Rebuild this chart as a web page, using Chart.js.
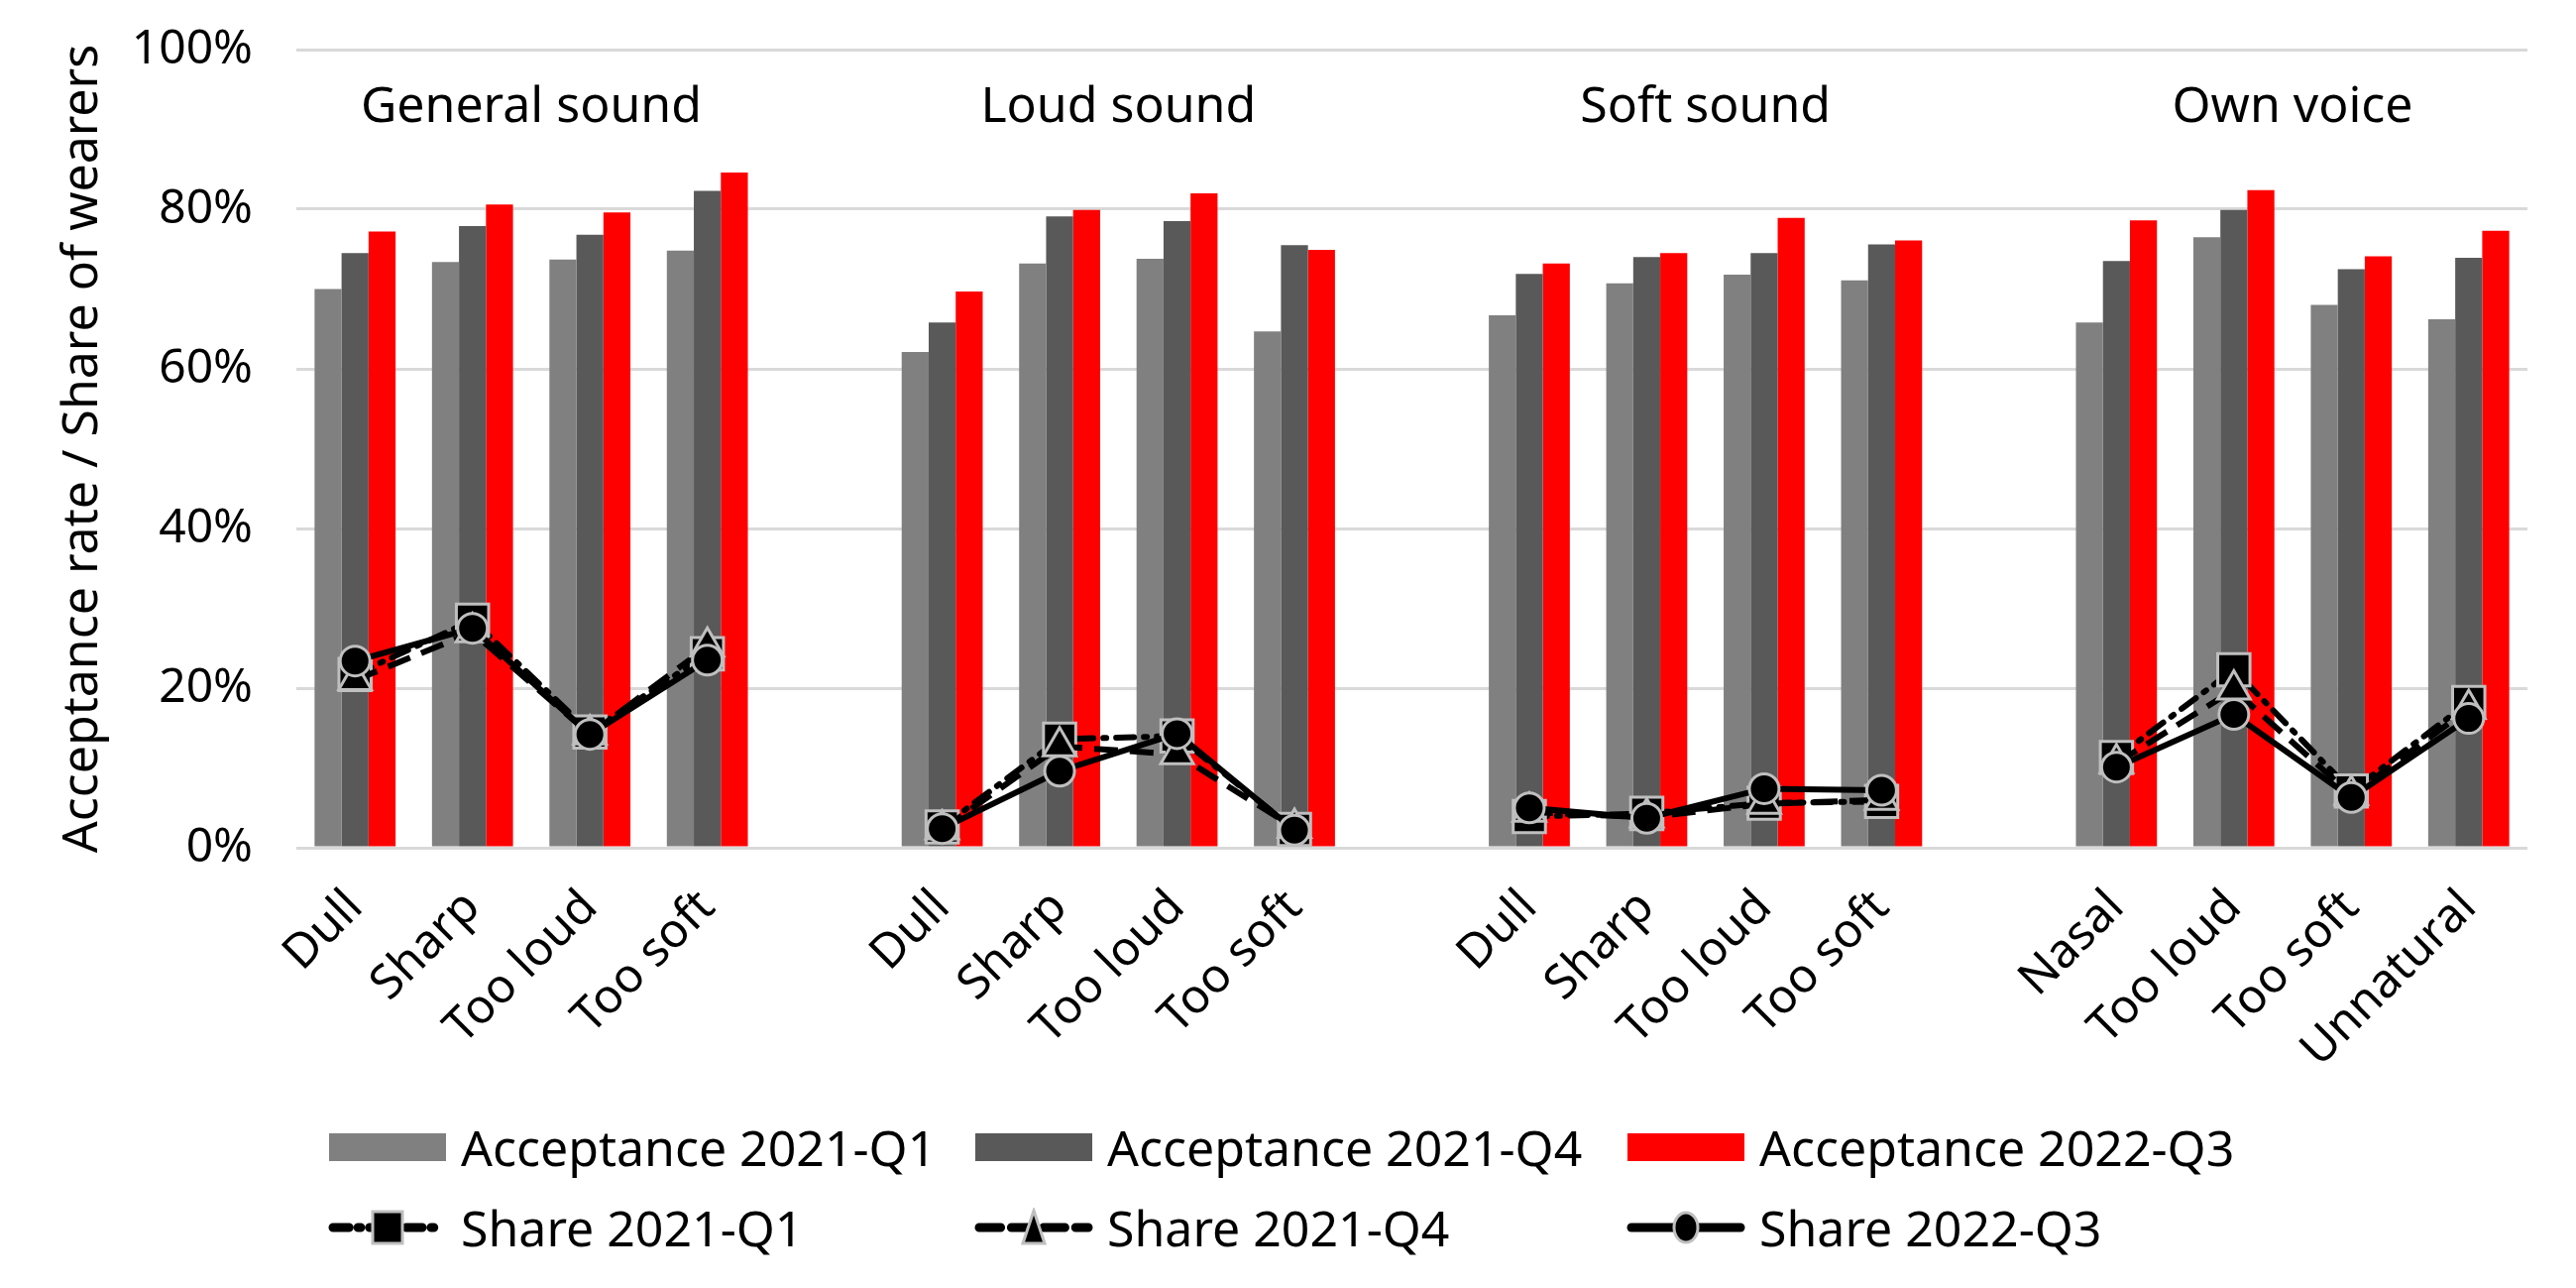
<!DOCTYPE html>
<html>
<head>
<meta charset="utf-8">
<script src="https://cdn.jsdelivr.net/npm/chart.js@4.4.1/dist/chart.umd.min.js"></script>
<style>
html, body { margin: 0; padding: 0; background: #fff; }
#wrap { position: relative; width: 2599px; height: 1299px; overflow: hidden; }
#c { position: absolute; left: 0; top: 0; }
#legend { position: absolute; left: 331px; top: 1116px; display: grid;
  grid-template-columns: 652px 658px 700px; grid-auto-rows: 81px;
  font-family: "Noto Sans", sans-serif; font-size: 50px; color: #000; }
.item { display: flex; align-items: center; height: 81px; white-space: nowrap; }
.item canvas { margin-right: 14px; flex: none; }
</style>
</head>
<body>
<div id="wrap">
  <canvas id="c" width="2599" height="1299"></canvas>
  <div id="legend"></div>
</div>
<script>
// ---- data ----
const categories = ['Dull', 'Sharp', 'Too loud', 'Too soft', '',
                    'Dull', 'Sharp', 'Too loud', 'Too soft', '',
                    'Dull', 'Sharp', 'Too loud', 'Too soft', '',
                    'Nasal', 'Too loud', 'Too soft', 'Unnatural'];
const groupNames = ['General sound', 'Loud sound', 'Soft sound', 'Own voice'];
const groupFirst = [0, 5, 10, 15];
const groupLast = [3, 8, 13, 18];

const acceptance2021Q1 = [70.0, 73.4, 73.7, 74.8, null, 62.1, 73.2, 73.8, 64.7, null, 66.7, 70.7, 71.8, 71.1, null, 65.8, 76.5, 68.0, 66.2];
const acceptance2021Q4 = [74.5, 77.9, 76.8, 82.3, null, 65.8, 79.1, 78.5, 75.5, null, 71.9, 74.0, 74.5, 75.6, null, 73.5, 79.9, 72.5, 73.9];
const acceptance2022Q3 = [77.2, 80.6, 79.6, 84.6, null, 69.7, 79.9, 82.0, 74.9, null, 73.2, 74.5, 78.9, 76.1, null, 78.6, 82.4, 74.1, 77.3];

const share2021Q1 = [21.7, 28.5, 14.5, 24.3, null, 2.6, 13.6, 14.0, 2.3, null, 3.9, 4.3, 5.6, 5.8, null, 11.3, 22.3, 7.1, 18.2];
const share2021Q4 = [21.0, 27.0, 14.2, 25.2, null, 2.3, 12.7, 11.7, 2.5, null, 4.5, 3.8, 5.5, 6.0, null, 10.6, 19.8, 6.6, 17.4];
const share2022Q3 = [23.4, 27.5, 14.2, 23.5, null, 2.4, 9.6, 14.3, 2.2, null, 5.0, 3.7, 7.4, 7.2, null, 10.1, 16.7, 6.3, 16.2];

const yTicks = [0, 20, 40, 60, 80, 100];

// ---- styles ----
const FONT = '"Noto Sans", sans-serif';
Chart.defaults.font.family = FONT;
Chart.defaults.color = '#000';

const markerBorder = '#bfbfbf';

const datasets = [
  { type: 'bar', label: 'Acceptance 2021-Q1', data: acceptance2021Q1, backgroundColor: '#808080', order: 3 },
  { type: 'bar', label: 'Acceptance 2021-Q4', data: acceptance2021Q4, backgroundColor: '#595959', order: 4 },
  { type: 'bar', label: 'Acceptance 2022-Q3', data: acceptance2022Q3, backgroundColor: '#ff0000', order: 5 },
  { type: 'line', label: 'Share 2021-Q1', data: share2021Q1, borderColor: '#000', borderWidth: 6,
    borderDash: [18, 10, 3, 10], borderCapStyle: 'round', pointStyle: 'rect', pointRadius: 23,
    pointBackgroundColor: '#000', pointBorderColor: markerBorder, pointBorderWidth: 3, order: 2 },
  { type: 'line', label: 'Share 2021-Q4', data: share2021Q4, borderColor: '#000', borderWidth: 6,
    borderDash: [24, 12], pointStyle: 'triangle', pointRadius: 19,
    pointBackgroundColor: '#000', pointBorderColor: markerBorder, pointBorderWidth: 3, order: 1 },
  { type: 'line', label: 'Share 2022-Q3', data: share2022Q3, borderColor: '#000', borderWidth: 6,
    pointStyle: 'circle', pointRadius: 15,
    pointBackgroundColor: '#000', pointBorderColor: markerBorder, pointBorderWidth: 3, order: 0 }
];
datasets.forEach(d => {
  if (d.type === 'bar') { d.categoryPercentage = 0.69; d.barPercentage = 1.0; }
  else { d.tension = 0; d.spanGaps = false; d.pointHoverRadius = d.pointRadius; }
});

const groupLabelPlugin = {
  id: 'groupLabels',
  afterDatasetsDraw(chart) {
    const { ctx, scales: { x, y } } = chart;
    ctx.save();
    ctx.font = '50px ' + FONT;
    ctx.fillStyle = '#000';
    ctx.textAlign = 'center';
    ctx.textBaseline = 'alphabetic';
    const yPix = y.getPixelForValue(90.9);
    groupNames.forEach((name, i) => {
      const xPix = (x.getPixelForValue(groupFirst[i]) + x.getPixelForValue(groupLast[i])) / 2;
      ctx.fillText(name, xPix, yPix);
    });
    ctx.restore();
  }
};

const chart = new Chart(document.getElementById('c'), {
  data: { labels: categories, datasets },
  options: {
    responsive: false,
    animation: false,
    devicePixelRatio: 1,
    layout: { padding: { top: 50, right: 49, bottom: 0, left: 0 } },
    plugins: { legend: { display: false }, tooltip: { enabled: false } },
    scales: {
      x: {
        offset: true,
        grid: { display: false },
        border: { display: false },
        ticks: { autoSkip: false, maxRotation: 45, minRotation: 45, padding: 24,
                 font: { size: 48 }, color: '#000' },
        afterFit(s) { s.height = 1299 - 855; s.paddingLeft = 0; s.paddingRight = 0; }
      },
      y: {
        min: 0, max: 100,
        afterBuildTicks(s) { s.ticks = yTicks.map(v => ({ value: v })); },
        grid: { color: '#d9d9d9', lineWidth: 3, drawTicks: false },
        border: { display: false },
        ticks: { padding: 44, font: { size: 48 }, color: '#000', callback: v => v + '%' },
        title: { display: true, text: 'Acceptance rate / Share of wearers',
                 font: { size: 50 }, color: '#000', padding: { top: 54, bottom: 0 } },
        afterFit(s) { s.width = 299; s.paddingTop = 0; s.paddingBottom = 0; }
      }
    }
  },
  plugins: [groupLabelPlugin]
});

// ---- HTML legend ----
function drawMarker(ctx, style, x, y) {
  ctx.fillStyle = '#000';
  ctx.strokeStyle = markerBorder;
  ctx.lineWidth = 3;
  ctx.setLineDash([]);
  ctx.beginPath();
  if (style === 'rect') {
    ctx.rect(x - 15, y - 16, 30, 32);
  } else if (style === 'triangle') {
    ctx.moveTo(x, y - 17); ctx.lineTo(x + 11, y + 16); ctx.lineTo(x - 11, y + 16); ctx.closePath();
  } else {
    ctx.ellipse(x, y, 12, 15, 0, 0, Math.PI * 2);
  }
  ctx.fill(); ctx.stroke();
}
const legendEl = document.getElementById('legend');
[0, 1, 2, 3, 4, 5].forEach(i => {
  const ds = datasets[i];
  const item = document.createElement('div');
  item.className = 'item';
  const cv = document.createElement('canvas');
  cv.width = 120; cv.height = 40;
  const ctx = cv.getContext('2d');
  if (ds.type === 'bar') {
    ctx.fillStyle = ds.backgroundColor;
    ctx.fillRect(1, 6, 118, 28);
  } else {
    ctx.strokeStyle = '#000';
    ctx.lineWidth = 9;
    ctx.lineCap = 'round';
    ctx.setLineDash(ds.borderDash ? ds.borderDash.map(v => v * 0.9) : []);
    ctx.beginPath(); ctx.moveTo(5, 20); ctx.lineTo(115, 20); ctx.stroke();
    drawMarker(ctx, ds.pointStyle, 60, 20);
  }
  const span = document.createElement('span');
  span.textContent = ds.label;
  item.appendChild(cv); item.appendChild(span);
  legendEl.appendChild(item);
});
</script>
</body>
</html>
